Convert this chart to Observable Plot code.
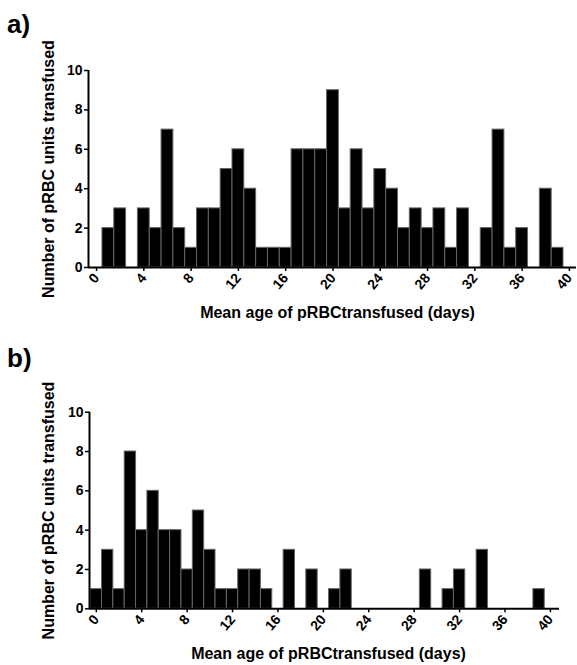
<!DOCTYPE html>
<html>
<head>
<meta charset="utf-8">
<script src="https://cdn.jsdelivr.net/npm/d3@7"></script>
<script src="https://cdn.jsdelivr.net/npm/@observablehq/plot@0.6"></script>
<style>
  html, body { margin: 0; padding: 0; background: #fff; }
  #wrap { position: relative; width: 577px; height: 665px; font-family: "Liberation Sans", Arial, sans-serif; }
  .panel { position: absolute; left: 0; }
  .tag { position: absolute; left: 7px; font-size: 26px; font-weight: bold; line-height: 1; color: #000; }
</style>
</head>
<body>
<div id="wrap">
  <div class="panel" id="pa" style="top:0px"></div>
  <div class="panel" id="pb" style="top:335px"></div>
  <div class="tag" id="tagA" style="top:11px">a)</div>
  <div class="tag" id="tagB" style="top:345px">b)</div>
</div>
<script>
const days = [0,1,2,3,4,5,6,7,8,9,10,11,12,13,14,15,16,17,18,19,20,21,22,23,24,25,26,27,28,29,30,31,32,33,34,35,36,37,38,39];
const countsA = [0,2,3,0,3,2,7,2,1,3, 3,5,6,4,1,1,1,6,6,6, 9,3,6,3,5,4,2,3,2,3, 1,3,0,2,7,1,2,0,4,1];
const countsB = [1,3,1,8,4,6,4,4,2,5, 3,1,1,2,2,1,0,3,0,2, 0,1,2,0,0,0,0,0,0,2, 0,1,2,0,3,0,0,0,0,1];
const xTicks = [0,4,8,12,16,20,24,28,32,36,40];
const yTicks = [0,2,4,6,8,10];
const xLabel = "Mean age of pRBCtransfused (days)";
const yLabel = "Number of pRBC units transfused";

function panel(counts, opts) {
  const data = days.map((d, i) => ({day: d, count: counts[i]})).filter(d => d.count > 0);
  const [x0, x1] = opts.xDomain;
  return Plot.plot({
    width: 577,
    height: 330,
    marginTop: opts.marginTop,
    marginBottom: opts.marginBottom,
    marginLeft: opts.marginLeft,
    marginRight: opts.marginRight,
    style: {fontFamily: '"Liberation Sans", Arial, sans-serif', fontWeight: "bold", color: "#000", background: "transparent", overflow: "visible"},
    x: {domain: opts.xDomain},
    y: {domain: [0, 10]},
    marks: [
      Plot.rectY(data, {x1: d => d.day - 0.5, x2: d => d.day + 0.5, y: "count", fill: "#000", stroke: "#666", strokeWidth: 1}),
      Plot.ruleY([0], {x1: x0, x2: x1, stroke: "#000", strokeWidth: 2}),
      Plot.ruleX([x0], {y1: 0, y2: 10, stroke: "#000", strokeWidth: 2}),
      Plot.axisX({ticks: xTicks, tickSize: 4, tickPadding: 4, tickRotate: -50, label: null, fontSize: 14, strokeWidth: 1.5}),
      Plot.axisY({ticks: yTicks, tickSize: 4, tickPadding: 2, label: null, fontSize: 14, strokeWidth: 1.5}),
      Plot.text([xLabel], {frameAnchor: "bottom", dy: 45, dx: opts.labelDx, textAnchor: "middle", lineAnchor: "middle", fontSize: 16, fontWeight: "bold"}),
      Plot.text([yLabel], {frameAnchor: "left", rotate: -90, dx: opts.yLabelDx, textAnchor: "middle", lineAnchor: "middle", fontSize: 16, fontWeight: "bold"})
    ]
  });
}

document.getElementById("pa").append(panel(countsA, {
  xDomain: [-0.68, 40.6], marginTop: 70, marginBottom: 63, marginLeft: 88, marginRight: 1, labelDx: 5, yLabelDx: -39.5
}));
document.getElementById("pb").append(panel(countsB, {
  xDomain: [-0.6, 40.8], marginTop: 76.7, marginBottom: 56.7, marginLeft: 89, marginRight: 18, labelDx: 4, yLabelDx: -40.5
}));
</script>
</body>
</html>
